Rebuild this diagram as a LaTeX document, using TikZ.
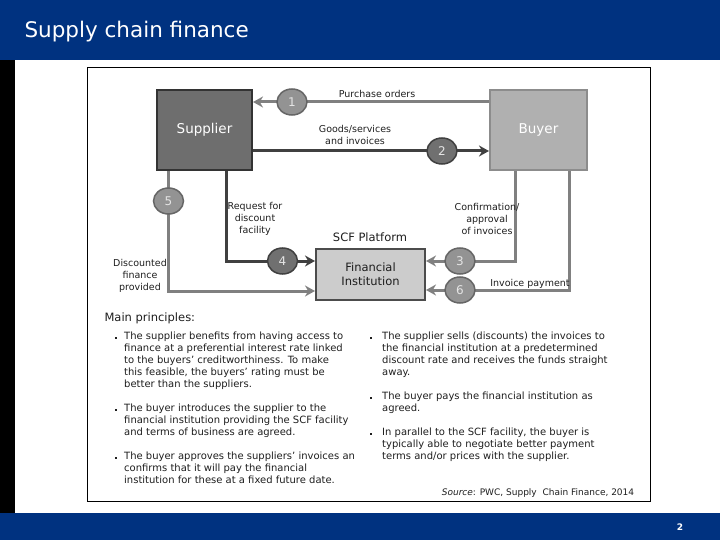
\documentclass[tikz,border=0pt]{standalone}
\usepackage{fontspec}
\setmainfont{DejaVu Sans}
\usetikzlibrary{shapes.geometric,calc,arrows.meta,positioning}
\definecolor{scfblue}{RGB}{0,50,128}
\definecolor{flowgray}{RGB}{128,128,128}
\definecolor{flowdark}{RGB}{64,64,64}
\definecolor{inkgray}{RGB}{30,30,30}

\begin{document}
\begin{tikzpicture}[x=1pt, y=-1pt, >={Stealth[length=10pt,width=11pt]}, font=\fontsize{9.5}{12}\selectfont, text=inkgray,
  party/.style={draw, line width=2pt, text=white, minimum height=80pt, font=\fontsize{13.5}{16}\selectfont},
  lightflow/.style={draw=flowgray, line width=3pt, ->},
  darkflow/.style={draw=flowdark, line width=3pt, ->},
  stepdot/.style={ellipse, draw=flowgray!80!black, fill=flowgray!85!white, line width=1.5pt, minimum width=30pt, minimum height=26pt, inner sep=0pt, text=white!90!black, font=\fontsize{12}{12}\selectfont},
  darkdot/.style={stepdot, draw=flowdark, fill=flowdark!75!white},
  note/.style={align=center, inner sep=0pt},
  para/.style={anchor=north west, align=left, inner sep=0pt, font=\fontsize{10}{12}\selectfont},
  dot/.style={fill=inkgray, inner sep=0pt, minimum size=2pt}]
% page frame
\useasboundingbox (0,0) rectangle (720,540);
\fill[scfblue] (0,0) rectangle (720,60);
\fill[scfblue] (0,513) rectangle (720,540);
\fill[black] (0,60) rectangle (15,513);
\node[anchor=west, text=white, font=\fontsize{21.5}{24}\selectfont] (title) at (21,32) {Supply chain finance};
\node[text=white, font=\bfseries\fontsize{9}{10}\selectfont] (page) at (680,527) {2};
\draw[black, line width=0.8pt] (87,67) rectangle (650,501);

% parties
\node[party, fill=black!57, draw=black!80, minimum width=95pt] (supplier) at (204.5,130) {Supplier};
\node[party, fill=black!31, draw=black!45, minimum width=97pt] (buyer) at (538.5,130) {Buyer};
\node[party, fill=black!20, draw=black!70, text=inkgray, minimum width=109pt, minimum height=51pt, align=center, font=\fontsize{11.5}{14}\selectfont] (bank) at (370.5,274.5) {Financial\\Institution};
\node[font=\fontsize{11.5}{14}\selectfont] (platform) at (370,237) {SCF Platform};

% flows
\draw[lightflow] ([yshift=28pt]buyer.west) -- ([yshift=28pt]supplier.east);
\draw[darkflow] ([yshift=-21pt]supplier.east) -- ([yshift=-21pt]buyer.west);
\draw[darkflow] ([xshift=21.5pt]supplier.south) |- ([yshift=13.5pt]bank.west);
\draw[lightflow] ([xshift=-36pt]supplier.south) |- ([yshift=-16.5pt]bank.west);
\draw[lightflow] ([xshift=-23.5pt]buyer.south) |- ([yshift=13.5pt]bank.east);
\draw[lightflow] ([xshift=31pt]buyer.south) |- ([yshift=-15.5pt]bank.east);

% steps
\node[stepdot] (c1) at (292,102) {1};
\node[darkdot] (c2) at (442,151) {2};
\node[stepdot] (c3) at (460,261) {3};
\node[darkdot] (c4) at (282.5,261) {4};
\node[stepdot] (c5) at (168.5,201) {5};
\node[stepdot] (c6) at (460,290) {6};

% flow labels
\node[note] (orders) at (377,94) {Purchase orders};
\node[note] (goods) at (355,135) {Goods/services\\and invoices};
\node[note] (request) at (255,219) {Request for\\discount\\facility};
\node[note] (discounted) at (140,276) {Discounted\\finance\\provided};
\node[note] (confirm) at (487,219) {Confirmation/\\approval\\of invoices};
\node[note] (payment) at (530,284) {Invoice payment};

% principles
\node[anchor=west, font=\fontsize{11.5}{14}\selectfont] (principles) at (101,318) {Main principles:};
\node[dot] (b1) at (116,338) {};
\node[para] (p1) at (124,332) {The supplier benefits from having access to\\finance at a preferential interest rate linked\\to the buyers' creditworthiness.  To make\\this feasible, the buyers' rating must be\\better than the suppliers.};
\node[dot] (b2) at (116,410) {};
\node[para] (p2) at (124,404) {The buyer introduces the supplier to the\\financial institution providing the SCF facility\\and terms of business are agreed.};
\node[dot] (b3) at (116,458) {};
\node[para] (p3) at (124,452) {The buyer approves the suppliers' invoices an\\confirms that it will pay the financial\\institution for these at a fixed future date.};
\node[dot] (b4) at (371,338) {};
\node[para] (p4) at (382,332) {The supplier sells (discounts) the invoices to\\the financial institution at a predetermined\\discount rate and receives the funds straight\\away.};
\node[dot] (b5) at (371,398) {};
\node[para] (p5) at (382,392) {The buyer pays the financial institution as\\agreed.};
\node[dot] (b6) at (371,434) {};
\node[para] (p6) at (382,428) {In parallel to the SCF facility, the buyer is\\typically able to negotiate better payment\\terms and/or prices with the supplier.};
\node[font=\fontsize{9}{10}\selectfont] (source) at (538,493) {\textit{Source}: PWC, Supply\ \ Chain Finance, 2014};
\end{tikzpicture}
\end{document}
